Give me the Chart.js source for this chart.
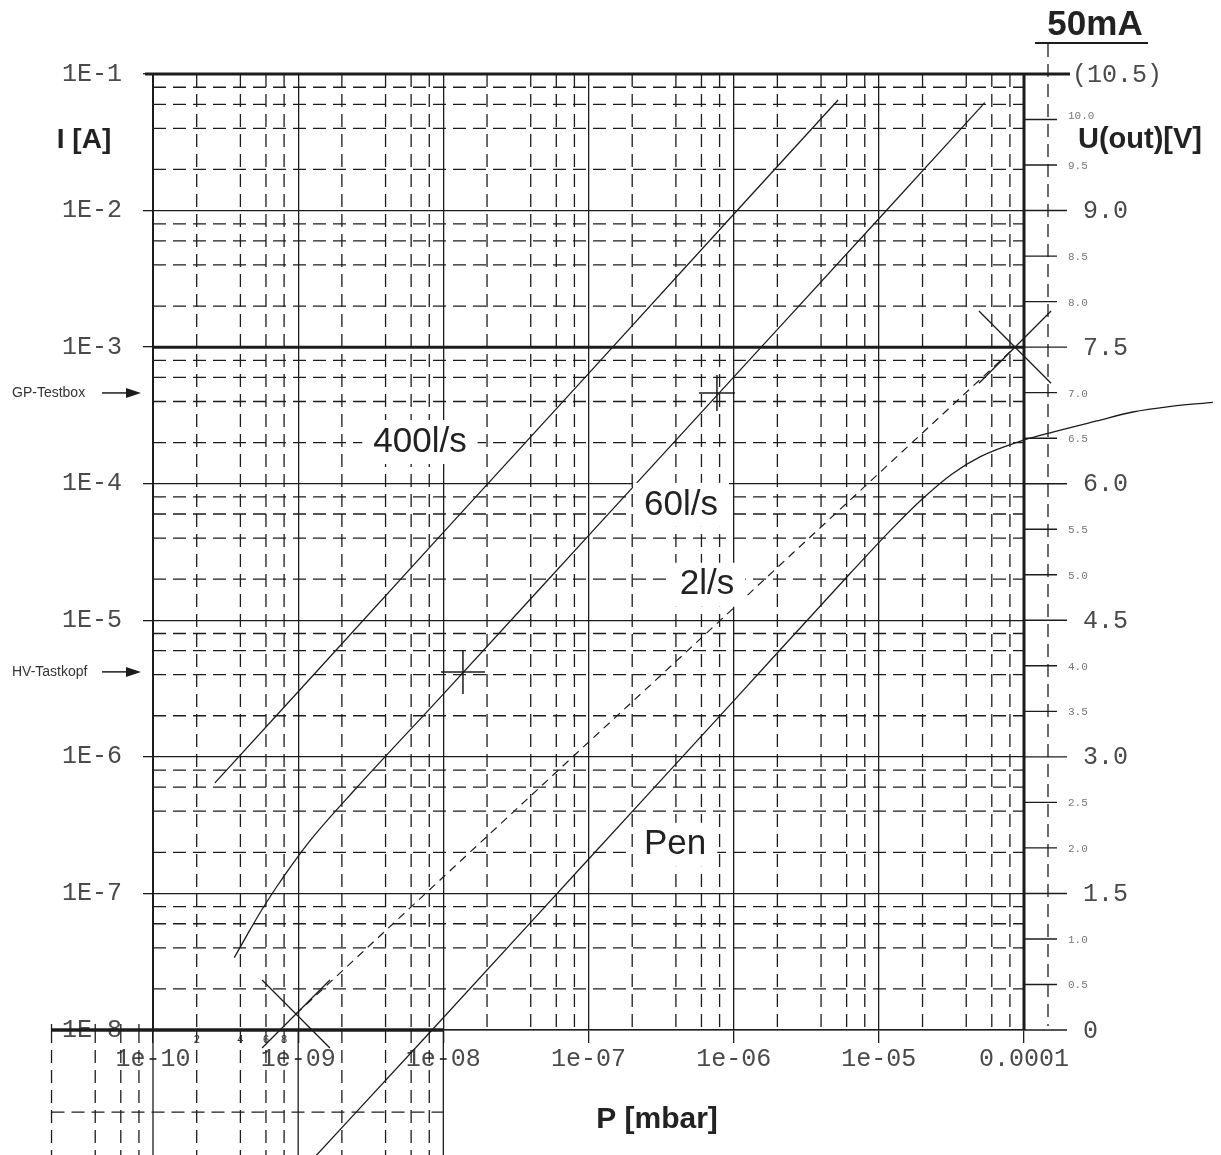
<!DOCTYPE html>
<html lang="de">
<head>
<meta charset="UTF-8" />
<title>I(P) Kennlinien</title>
<script src="https://cdn.jsdelivr.net/npm/chart.js@4.4.1/dist/chart.umd.min.js"></script>
<style>
 html, body { margin: 0; padding: 0; background: #fff; }
 canvas { display: block; }
</style>
</head>
<body>
<canvas id="chart" width="1221" height="1155"></canvas>
<script>
// axis values
const xDecades = [1e-10, 1e-9, 1e-8, 1e-7, 1e-6, 1e-5, 1e-4]
const yDecades = [1e-8, 1e-7, 1e-6, 1e-5, 1e-4, 1e-3, 1e-2, 1e-1]
const minorSteps = [2, 4, 6, 8]
const uoutTicks = [0, 0.5, 1, 1.5, 2, 2.5, 3, 3.5, 4, 4.5, 5, 5.5, 6, 6.5, 7, 7.5, 8, 8.5, 9, 9.5, 10, 10.5]
const uoutMajor = [0, 1.5, 3, 4.5, 6, 7.5, 9, 10.5]

// curves: P [mbar] -> I [A]
const p400 = [2.67e-10, 1e-9, 1e-8, 1e-7, 1e-6, 5.24e-6]
const i400 = [6.45e-7, 3.0e-6, 4.4e-5, 6.4e-4, 9.4e-3, 6.45e-2]

const p60 = [3.63e-10, 4.47e-10, 5.62e-10, 7.08e-10, 8.91e-10, 1.26e-9, 2.51e-9, 1e-8, 1e-7, 1e-6, 1e-5, 5.37e-5]
const i60 = [3.39e-8, 5.01e-8, 7.59e-8, 1.11e-7, 1.58e-7, 2.57e-7, 5.89e-7, 2.88e-6, 4.17e-5, 6.03e-4, 8.71e-3, 6.17e-2]

const p2 = [9.66e-10, 1e-8, 1e-7, 1e-6, 1e-5, 8.67e-5]
const i2 = [1.31e-8, 1.32e-7, 1.28e-6, 1.23e-5, 1.19e-4, 1.0e-3]

const pPen = [1.20e-9, 8.36e-9, 1e-7, 1e-6, 6.31e-6, 1.26e-5, 2.0e-5, 3.16e-5, 5.01e-5, 1e-4, 1.58e-4, 3.16e-4, 5.62e-4, 1e-3, 2.0e-3]
const iPen = [1.07e-9, 1.0e-8, 1.78e-7, 2.57e-6, 2.19e-5, 4.79e-5, 7.76e-5, 1.17e-4, 1.58e-4, 2.09e-4, 2.39e-4, 2.88e-4, 3.35e-4, 3.67e-4, 3.94e-4]

// marks: probe points (+) and the 2 l/s end points (x)
const markNames = ['HV-Tastkopf', 'GP-Testbox']
const markP = [1.365e-8, 7.67e-7]
const markI = [4.19e-6, 4.62e-4]
const endP = [9.66e-10, 8.67e-5]
const endI = [1.31e-8, 1.0e-3]

// curve names and where they are written
const curveNames = ['400l/s', '60l/s', '2l/s', 'Pen']
const nameP = [6.9e-9, 4.34e-7, 6.55e-7, 3.95e-7]
const nameI = [2.02e-4, 7.0e-5, 1.82e-5, 2.27e-7]

// stray grid piece below the axis, bottom left
const overlayMinor = [2e-11, 4e-11, 6e-11, 8e-11, 2e-10, 4e-10, 6e-10, 8e-10, 2e-9, 4e-9, 6e-9, 8e-9]
const overlayDecades = [1e-10, 1e-9, 1e-8]
const overlayRow = 2.5e-9

const ink = '#1c1c1c'
const dash = [13, 7]
const mono = '"Liberation Mono", "DejaVu Sans Mono", monospace'
const sans = '"Liberation Sans", Arial, sans-serif'

const toPts = (xs, ys) => xs.map((v, i) => ({ x: v, y: ys[i] }))

function line(ctx, x1, y1, x2, y2, w, d) {
 ctx.save()
 ctx.beginPath()
 ctx.lineWidth = w
 ctx.strokeStyle = ink
 ctx.setLineDash(d || [])
 ctx.moveTo(x1, y1)
 ctx.lineTo(x2, y2)
 ctx.stroke()
 ctx.restore()
}

function text(ctx, s, x, y, font, color, align) {
 ctx.save()
 ctx.font = font
 ctx.fillStyle = color
 ctx.textAlign = align || 'center'
 ctx.textBaseline = 'middle'
 ctx.fillText(s, x, y)
 ctx.restore()
}

const sheet = {
 id: 'sheet',
 beforeDatasetsDraw(chart) {
  const { ctx, chartArea: a, scales } = chart
  const xs = scales.x, ys = scales.y, us = scales.y2
  const H = chart.height

  // dashed minor grid inside the frame
  xDecades.slice(0, -1).forEach(d => minorSteps.forEach(m => {
   const px = xs.getPixelForValue(d * m)
   line(ctx, px, a.top, px, a.bottom, 1.3, dash)
  }))
  yDecades.slice(0, -1).forEach(d => minorSteps.forEach(m => {
   const py = ys.getPixelForValue(d * m)
   line(ctx, a.left, py, a.right, py, 1.3, dash)
  }))

  // grid fragment hanging below the axis
  const x0 = xs.getPixelForValue(overlayMinor[0])
  const x1 = xs.getPixelForValue(overlayDecades[overlayDecades.length - 1])
  overlayMinor.forEach(v => {
   const px = xs.getPixelForValue(v)
   line(ctx, px, a.bottom, px, H, 1.3, dash)
  })
  overlayDecades.forEach(v => {
   const px = xs.getPixelForValue(v)
   line(ctx, px, a.bottom, px, H, 1.3)
  })
  const yo = ys.getPixelForValue(overlayRow)
  line(ctx, x0, yo, x1, yo, 1.3, dash)
  line(ctx, x0, a.bottom, x1, a.bottom, 3.4)
  overlayMinor.slice(0, 4).forEach(v => {
   const px = xs.getPixelForValue(v)
   line(ctx, px, a.bottom - 6, px, a.bottom, 1.3)
  })
  minorSteps.forEach(m => {
   const px = xs.getPixelForValue(xDecades[0] * m)
   text(ctx, String(m), px, a.bottom + 10, '11px ' + sans, '#333')
  })

  // heavy frame and the 1E-3 line
  line(ctx, a.left - 8, a.top, a.right + 46, a.top, 3)
  line(ctx, a.right, a.top, a.right, a.bottom, 3)
  line(ctx, a.left, a.top, a.left, a.bottom, 2)
  const y3 = ys.getPixelForValue(1e-3)
  line(ctx, a.left, y3, a.right, y3, 3)

  // right axis U(out)
  const ax = a.right + 24
  line(ctx, ax, a.top - 30, ax, a.bottom - 4, 1.3, dash)
  uoutTicks.forEach(v => {
   const py = us.getPixelForValue(v)
   const major = uoutMajor.includes(v)
   if (v !== uoutTicks[uoutTicks.length - 1]) {
    line(ctx, a.right, py, a.right + (major ? 43 : 33), py, 1.4)
   }
   if (major) {
    const s = v === 10.5 ? '(10.5)' : v === 0 ? '0' : v.toFixed(1)
    text(ctx, s, v === 10.5 ? a.right + 48 : a.right + 59, py + 1, '25px ' + mono, '#4a4a4a', 'left')
   } else {
    text(ctx, v.toFixed(1), a.right + 44, v === 10 ? py - 3 : py + 1, '11px ' + mono, '#777', 'left')
   }
  })
 },
 afterDatasetsDraw(chart) {
  const { ctx, chartArea: a, scales } = chart
  const xs = scales.x, ys = scales.y

  // curve names on white boxes
  curveNames.forEach((s, i) => {
   const px = xs.getPixelForValue(nameP[i])
   const py = ys.getPixelForValue(nameI[i])
   ctx.save()
   ctx.font = '35px ' + sans
   const w = ctx.measureText(s).width
   ctx.fillStyle = '#fff'
   ctx.fillRect(px - w / 2 - 11, py - 22, w + 22, 44)
   ctx.restore()
   text(ctx, s, px, py, '35px ' + sans, '#222')
  })

  // probe arrows on the left
  markNames.forEach((s, i) => {
   const py = ys.getPixelForValue(markI[i])
   text(ctx, s, 12, py, '14px ' + sans, '#333', 'left')
   line(ctx, 102, py, 128, py, 1.5)
   ctx.save()
   ctx.beginPath()
   ctx.fillStyle = ink
   ctx.moveTo(a.left - 12, py)
   ctx.lineTo(a.left - 27, py - 5)
   ctx.lineTo(a.left - 27, py + 5)
   ctx.closePath()
   ctx.fill()
   ctx.restore()
  })

  // titles
  text(ctx, 'I [A]', 84, 140, 'bold 28px ' + sans, '#222')
  text(ctx, 'U(out)[V]', 1140, 140, 'bold 29px ' + sans, '#222')
  text(ctx, 'P [mbar]', 657, 1120, 'bold 30px ' + sans, '#222')
  text(ctx, '50mA', 1095, 25, 'bold 35px ' + sans, '#222')
  line(ctx, a.right + 11, a.top - 31, a.right + 124, a.top - 31, 2)
 }
}

const decadeLabel = v => {
 const e = Math.round(Math.log10(v))
 if (e === -4) return '0.0001'
 return '1e-' + String(-e).padStart(2, '0')
}

new Chart(document.getElementById('chart'), {
 type: 'line',
 plugins: [sheet],
 data: {
  datasets: [
   { label: '400l/s', data: toPts(p400, i400), borderColor: ink, borderWidth: 1.3 },
   { label: '60l/s', data: toPts(p60, i60), borderColor: ink, borderWidth: 1.3, cubicInterpolationMode: 'monotone' },
   { label: '2l/s', data: toPts(p2, i2), borderColor: ink, borderWidth: 1.2, borderDash: [8, 6] },
   { label: 'Pen', data: toPts(pPen, iPen), borderColor: ink, borderWidth: 1.3, cubicInterpolationMode: 'monotone' },
   {
    label: 'Messpunkte', data: toPts(markP, markI), showLine: false,
    pointStyle: 'cross', pointRadius: [22, 18], borderColor: ink, pointBorderWidth: 1.5
   },
   {
    label: 'Endpunkte', data: toPts(endP, endI), showLine: false,
    pointStyle: 'crossRot', pointRadius: [48, 51], borderColor: ink, pointBorderWidth: 1.3
   }
  ].map(d => Object.assign({ clip: false, pointRadius: 0, capBezierPoints: false, fill: false }, d))
 },
 options: {
  responsive: false,
  animation: false,
  events: [],
  layout: { padding: { top: 74, right: 197, bottom: 0, left: 0 } },
  plugins: { legend: { display: false }, tooltip: { enabled: false } },
  scales: {
   x: {
    type: 'logarithmic',
    position: 'bottom',
    bounds: 'data',
    // range set here (not via min/max) so points past the frame are still drawn
    afterDataLimits: s => { s.min = xDecades[0]; s.max = xDecades[xDecades.length - 1] },
    afterBuildTicks: s => { s.ticks = xDecades.map(v => ({ value: v })) },
    afterFit: s => { s.height = 125 },
    grid: { color: ink, lineWidth: 1.3, tickLength: 13, tickColor: ink },
    border: { color: ink, width: 1.4 },
    ticks: {
     autoSkip: false, maxRotation: 0, padding: 1,
     font: { family: mono, size: 25 }, color: '#4a4a4a',
     callback: v => decadeLabel(v)
    }
   },
   y: {
    type: 'logarithmic',
    position: 'left',
    bounds: 'data',
    afterDataLimits: s => { s.min = yDecades[0]; s.max = yDecades[yDecades.length - 1] },
    afterBuildTicks: s => { s.ticks = yDecades.map(v => ({ value: v })) },
    afterFit: s => { s.width = 153 },
    grid: { color: ink, lineWidth: 1.3, tickLength: 10, tickColor: ink },
    border: { color: ink, width: 2 },
    ticks: {
     autoSkip: false, padding: 21,
     font: { family: mono, size: 25 }, color: '#4a4a4a',
     callback: v => '1E' + Math.round(Math.log10(v))
    }
   },
   y2: {
    type: 'linear',
    position: 'right',
    display: false,
    min: uoutTicks[0],
    max: uoutTicks[uoutTicks.length - 1]
   }
  }
 }
})
</script>
</body>
</html>
